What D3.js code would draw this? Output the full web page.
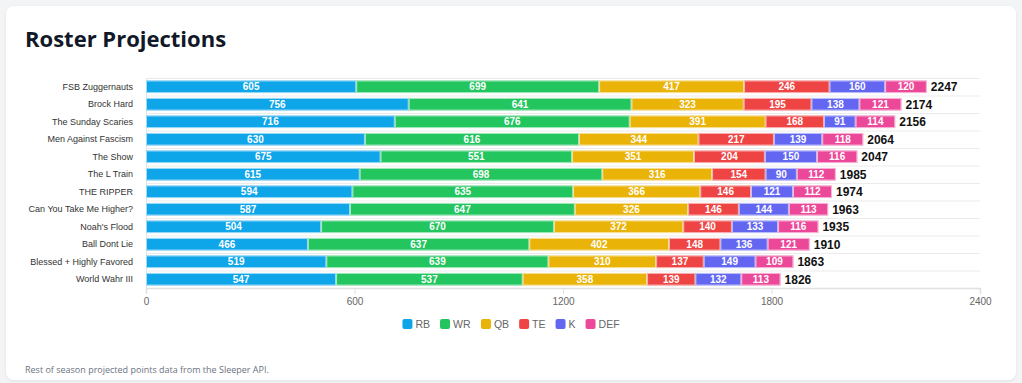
<!DOCTYPE html>
<html>
<head>
<meta charset="utf-8">
<script src="https://cdn.jsdelivr.net/npm/d3@7"></script>
<style>
  html, body { margin: 0; padding: 0; background: #f3f4f6; }
  svg { display: block; }
</style>
</head>
<body>
<div id="chart"></div>
<script>
// Teams, top to bottom
const teams = [
  "FSB Zuggernauts", "Brock Hard", "The Sunday Scaries", "Men Against Fascism",
  "The Show", "The L Train", "THE RIPPER", "Can You Take Me Higher?",
  "Noah's Flood", "Ball Dont Lie", "Blessed + Highly Favored", "World Wahr III"
];

// Projected points by position
const positions = ["RB", "WR", "QB", "TE", "K", "DEF"];
const rb  = [605, 756, 716, 630, 675, 615, 594, 587, 504, 466, 519, 547];
const wr  = [699, 641, 676, 616, 551, 698, 635, 647, 670, 637, 639, 537];
const qb  = [417, 323, 391, 344, 351, 316, 366, 326, 372, 402, 310, 358];
const te  = [246, 195, 168, 217, 204, 154, 146, 146, 140, 148, 137, 139];
const k   = [160, 138,  91, 139, 150,  90, 121, 144, 133, 136, 149, 132];
const def = [120, 121, 114, 118, 116, 112, 112, 113, 116, 121, 109, 113];

const xTicks = [0, 600, 1200, 1800, 2400];
const colors = ["#0ea5e9", "#22c55e", "#eab308", "#ef4444", "#6366f1", "#ec4899"];

const W = 1022, H = 383;
const margin = { left: 146, right: 42, top: 78, bottom: 95 };

const rows = teams.map((t, i) => {
  const r = { team: t };
  [rb, wr, qb, te, k, def].forEach((s, j) => r[positions[j]] = s[i]);
  return r;
});
const totals = rows.map(r => d3.sum(positions, p => r[p]));

const stacked = d3.stack().keys(positions)(rows);

const svg = d3.select("#chart").append("svg")
  .attr("width", W).attr("height", H)
  .style("font-family", "'Liberation Sans', Arial, sans-serif");

const defs = svg.append("defs");
const f = defs.append("filter").attr("id", "shadow").attr("x", "-5%").attr("y", "-5%").attr("width", "110%").attr("height", "110%");
f.append("feDropShadow").attr("dx", 0).attr("dy", 1).attr("stdDeviation", 1.5)
  .attr("flood-color", "#000").attr("flood-opacity", 0.08);

// card
svg.append("rect")
  .attr("x", 6).attr("y", 6).attr("width", W - 12).attr("height", H - 9)
  .attr("rx", 8).attr("fill", "#fff").attr("filter", "url(#shadow)");

svg.append("text")
  .attr("x", 25).attr("y", 47)
  .style("font-family", "'Open Sans', sans-serif")
  .attr("font-size", 22).attr("font-weight", 700).attr("fill", "#111827")
  .text("Roster Projections");

const x = d3.scaleLinear().domain([0, 2400]).range([margin.left, W - margin.right]);
const y = d3.scaleBand().domain(teams).range([margin.top, H - margin.bottom]).paddingInner(0.28).paddingOuter(0.14);

const step = y.step();
const bandTop = margin.top;

// horizontal grid between categories
const g = svg.append("g");
g.selectAll("line.grid").data(d3.range(teams.length)).join("line")
  .attr("x1", x(0)).attr("x2", x(2400))
  .attr("y1", i => bandTop + i * step + 0.5).attr("y2", i => bandTop + i * step + 0.5)
  .attr("stroke", "#ebebeb").attr("stroke-width", 1);

// y axis line
g.append("line")
  .attr("x1", x(0) + 0.5).attr("x2", x(0) + 0.5)
  .attr("y1", bandTop).attr("y2", H - margin.bottom)
  .attr("stroke", "#e5e5e5");

// x axis
const xAxis = svg.append("g")
  .attr("transform", `translate(0,${H - margin.bottom})`)
  .call(d3.axisBottom(x).tickValues(xTicks).tickSize(6).tickPadding(4).tickFormat(d3.format("d")));
xAxis.select(".domain").attr("stroke", "#e0e0e0").attr("stroke-width", 1.5);
xAxis.selectAll(".tick line").attr("stroke", "#e0e0e0");
xAxis.selectAll(".tick text").attr("fill", "#666").attr("font-size", 10)
  .style("font-family", "'Liberation Sans', Arial, sans-serif");

// y labels
svg.append("g").selectAll("text").data(teams).join("text")
  .attr("x", 133).attr("y", d => y(d) + y.bandwidth() / 2)
  .attr("dy", "0.35em").attr("text-anchor", "end")
  .attr("font-size", 9).attr("fill", "#333")
  .text(d => d);

// bars
const layers = svg.append("g").selectAll("g").data(stacked).join("g")
  .attr("fill", (d, i) => colors[i]);

layers.selectAll("rect").data(d => d).join("rect")
  .attr("x", d => x(d[0]))
  .attr("y", d => y(d.data.team))
  .attr("width", d => x(d[1]) - x(d[0]))
  .attr("height", y.bandwidth());

// thin light separators between segments
layers.selectAll("rect.sep").data(d => d).join("rect")
  .attr("x", d => x(d[0]) + 0.5)
  .attr("y", d => y(d.data.team) + 0.5)
  .attr("width", d => Math.max(0, x(d[1]) - x(d[0]) - 1))
  .attr("height", y.bandwidth() - 1)
  .attr("fill", "none").attr("stroke", "#fff").attr("stroke-opacity", 0.6).attr("stroke-width", 1);

// segment value labels
layers.selectAll("text").data(d => d).join("text")
  .attr("x", d => (x(d[0]) + x(d[1])) / 2)
  .attr("y", d => y(d.data.team) + y.bandwidth() / 2)
  .attr("dy", "0.36em").attr("text-anchor", "middle")
  .attr("font-size", 10).attr("font-weight", 700).attr("fill", "#fff")
  .text(d => d[1] - d[0]);

// totals
svg.append("g").selectAll("text").data(totals).join("text")
  .attr("x", d => x(d) + 4)
  .attr("y", (d, i) => y(teams[i]) + y.bandwidth() / 2)
  .attr("dy", "0.36em")
  .attr("font-size", 12).attr("font-weight", 700).attr("fill", "#111")
  .text(d => d);

// legend
const legend = svg.append("g").attr("font-size", 10.5);
const items = legend.selectAll("g").data(positions).join("g");
items.append("rect").attr("width", 10).attr("height", 10).attr("rx", 2)
  .attr("y", -5).attr("fill", (d, i) => colors[i]);
items.append("text").attr("x", 13).attr("dy", "0.36em").attr("fill", "#666").text(d => d);
const widths = [];
items.each(function () { widths.push(this.getBBox().width); });
const gap = 10;
const totalW = d3.sum(widths) + gap * (widths.length - 1);
let off = W / 2 - totalW / 2;
items.attr("transform", (d, i) => {
  const t = `translate(${off},324)`;
  off += widths[i] + gap;
  return t;
});

// footnote
svg.append("text")
  .attr("x", 25).attr("y", 373)
  .style("font-family", "'Open Sans', sans-serif")
  .attr("font-size", 9).attr("fill", "#6b7280")
  .text("Rest of season projected points data from the Sleeper API.");
</script>
</body>
</html>
